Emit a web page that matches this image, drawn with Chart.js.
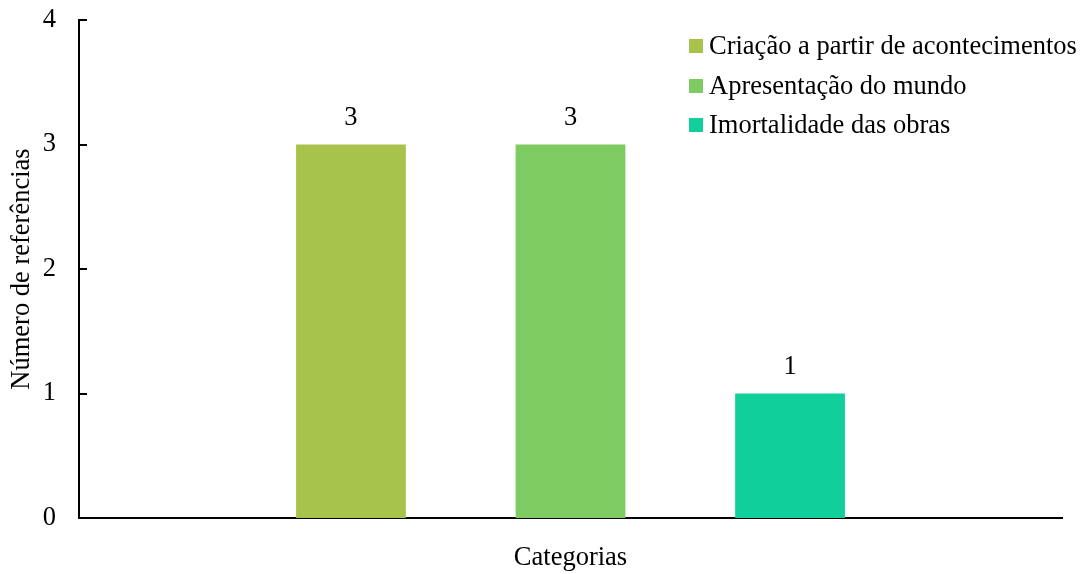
<!DOCTYPE html>
<html>
<head>
<meta charset="utf-8">
<script src="https://cdn.jsdelivr.net/npm/chart.js@4/dist/chart.umd.min.js"></script>
<style>
  html, body { margin: 0; padding: 0; background: #fff; }
  #wrap { width: 1085px; height: 574px; }
</style>
</head>
<body>
<div id="wrap"><canvas id="c" width="1085" height="574"></canvas></div>
<script>
const categories = [''];
const seriesNames = ['Criação a partir de acontecimentos', 'Apresentação do mundo', 'Imortalidade das obras'];
const seriesValues = [[3], [3], [1]];
const seriesColors = ['#A7C34B', '#7ECB62', '#11CF9B'];
const yTicks = [0, 1, 2, 3, 4];
const xTitle = 'Categorias';
const yTitle = 'Número de referências';

const FONT = '"Liberation Serif", "Times New Roman", serif';
const FS = 26.5;

const insideTicks = {
  id: 'insideTicks',
  afterDraw(chart) {
    const y = chart.scales.y, ctx = chart.ctx, left = chart.chartArea.left;
    ctx.save();
    ctx.strokeStyle = '#000';
    ctx.lineWidth = 2;
    y.ticks.forEach(t => {
      const py = Math.round(y.getPixelForValue(t.value));
      ctx.beginPath();
      ctx.moveTo(left - 1, py);
      ctx.lineTo(left + 8, py);
      ctx.stroke();
    });
    ctx.restore();
  }
};

const valueLabels = {
  id: 'valueLabels',
  afterDatasetsDraw(chart) {
    const ctx = chart.ctx;
    ctx.save();
    ctx.font = FS + 'px ' + FONT;
    ctx.fillStyle = '#000';
    ctx.textAlign = 'center';
    ctx.textBaseline = 'middle';
    chart.data.datasets.forEach((ds, i) => {
      const meta = chart.getDatasetMeta(i);
      meta.data.forEach((el, j) => {
        ctx.fillText(String(ds.data[j]), el.x, el.y - 26);
      });
    });
    ctx.restore();
  }
};

const customLegend = {
  id: 'customLegend',
  afterDraw(chart) {
    const ctx = chart.ctx;
    const x0 = chart.chartArea.right - 373;
    const rows = [46, 86, 125];
    ctx.save();
    ctx.font = FS + 'px ' + FONT;
    ctx.textBaseline = 'middle';
    ctx.textAlign = 'left';
    chart.data.datasets.forEach((ds, i) => {
      const cy = rows[i];
      ctx.fillStyle = ds.backgroundColor;
      ctx.fillRect(x0, cy - 7, 14, 14);
      ctx.fillStyle = '#000';
      ctx.fillText(ds.label, x0 + 20, cy + 1);
    });
    ctx.restore();
  }
};

new Chart(document.getElementById('c'), {
  type: 'bar',
  data: {
    labels: categories,
    datasets: seriesNames.map((n, i) => ({
      label: n,
      data: seriesValues[i],
      backgroundColor: seriesColors[i],
      borderWidth: 0,
      categoryPercentage: 0.67,
      barPercentage: 0.5
    }))
  },
  options: {
    responsive: false,
    animation: false,
    layout: { padding: { top: 20, right: 23, left: 0, bottom: 0 } },
    plugins: { legend: { display: false }, tooltip: { enabled: false } },
    scales: {
      x: {
        grid: { display: false },
        border: { display: true, color: '#000', width: 2 },
        ticks: { display: false },
        title: { display: true, text: xTitle, color: '#000', font: { family: FONT, size: FS }, padding: { top: 0, bottom: 0 } },
        afterFit(s) { s.height = 56; s.paddingLeft = 0; s.paddingRight = 0; }
      },
      y: {
        min: 0, max: 4,
        afterBuildTicks(s) { s.ticks = yTicks.map(v => ({ value: v })); },
        grid: { display: false, drawTicks: false },
        border: { display: true, color: '#000', width: 2 },
        ticks: { color: '#000', padding: 23, font: { family: FONT, size: FS } },
        title: { display: true, text: yTitle, color: '#000', font: { family: FONT, size: FS }, padding: { top: 6, bottom: 0 } },
        afterFit(s) { s.width = 79; s.paddingTop = 0; s.paddingBottom = 0; }
      }
    }
  },
  plugins: [insideTicks, valueLabels, customLegend]
});
</script>
</body>
</html>
